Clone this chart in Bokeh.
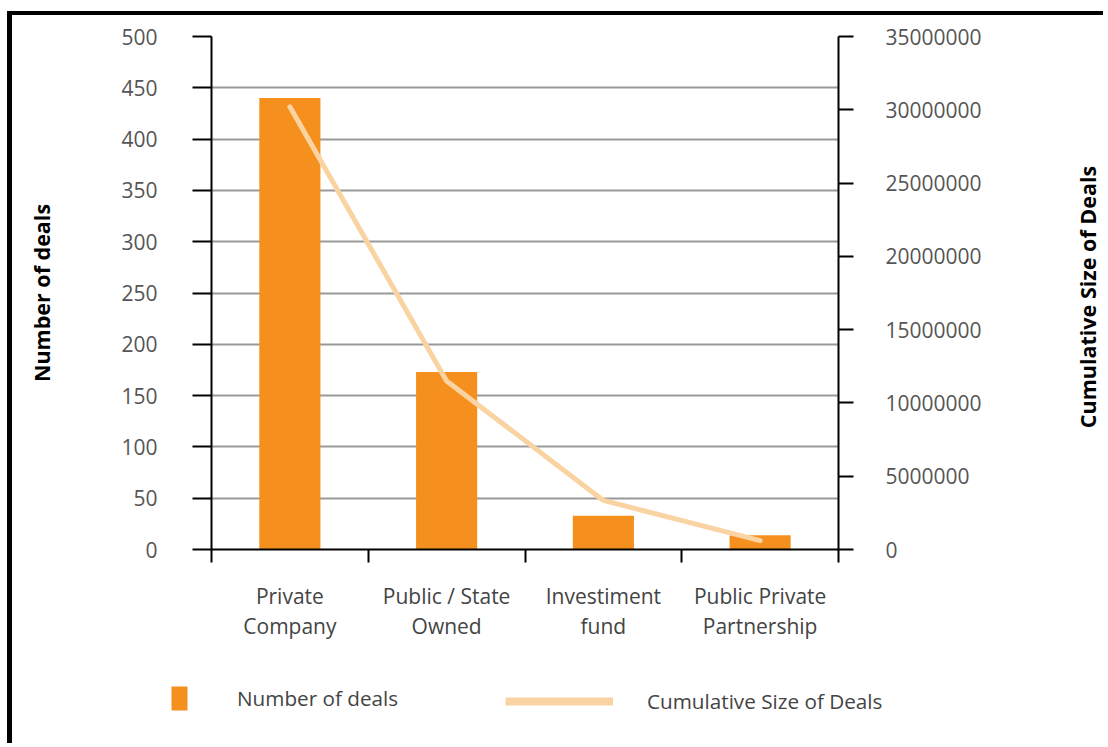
from bokeh.plotting import figure
from bokeh.models import (Range1d, LinearAxis, FixedTicker, NumeralTickFormatter,
                          Legend, LegendItem, Title)
from bokeh.embed import file_html
from bokeh.resources import INLINE

# ---- data ----
categories = ["Private\nCompany", "Public / State\nOwned", "Investiment\nfund",
              "Public Private\nPartnership"]
number_of_deals = [440, 173, 33, 14]
cumulative_size = [30200000, 11500000, 3350000, 610000]
left_ticks = [0, 50, 100, 150, 200, 250, 300, 350, 400, 450, 500]
right_ticks = [0, 5000000, 10000000, 15000000, 20000000, 25000000, 30000000, 35000000]

FONT = "Open Sans"
BAR_COLOR = "#F5901E"
LINE_COLOR = "#FAD3A2"
TICK_COLOR = "#555555"

n = len(categories)
xc = [i + 0.5 for i in range(n)]
bounds = [i for i in range(n + 1)]

p = figure(width=1096, height=645, output_backend="svg", toolbar_location=None,
           x_range=Range1d(0, n), y_range=Range1d(0, left_ticks[-1]),
           min_border_left=199, min_border_right=270, min_border_top=21,
           min_border_bottom=111)
p.styles = {"margin-left": "7px", "margin-top": "11px",
            "border-left": "5px solid black", "border-top": "4px solid black"}
p.outline_line_color = None
p.background_fill_color = "white"
p.border_fill_color = "white"

p.extra_y_ranges = {"size": Range1d(0, right_ticks[-1])}

# bottom axis
xa = p.xaxis[0]
xa.ticker = FixedTicker(ticks=xc, minor_ticks=bounds)
xa.major_label_overrides = {v: c for v, c in zip(xc, categories)}
xa.major_tick_out = 0
xa.major_tick_in = 0
xa.minor_tick_out = 13
xa.minor_tick_in = 0
xa.minor_tick_line_color = "black"
xa.minor_tick_line_width = 2
xa.axis_line_color = "black"
xa.axis_line_width = 2
xa.major_label_text_font = FONT
xa.major_label_text_font_size = "21px"
xa.major_label_text_color = "#444444"
xa.major_label_text_line_height = 1.1
xa.major_label_standoff = 19
xa.major_label_orientation = "horizontal"

# left axis
ya = p.yaxis[0]
ya.ticker = FixedTicker(ticks=left_ticks)
ya.major_tick_out = 19
ya.major_tick_in = 0
ya.minor_tick_line_color = None
ya.major_tick_line_width = 2
ya.major_tick_line_color = "black"
ya.axis_line_width = 2
ya.axis_line_color = "black"
ya.major_label_text_font = FONT
ya.major_label_text_font_size = "21px"
ya.major_label_text_color = TICK_COLOR
ya.major_label_standoff = 35
ya.axis_label = "Number of deals"
ya.axis_label_text_font = FONT
ya.axis_label_text_font_style = "bold"
ya.axis_label_text_font_size = "21.5px"
ya.axis_label_text_color = "black"
ya.axis_label_standoff = 62

# right axis (ticks and labels)
ra = LinearAxis(y_range_name="size", ticker=FixedTicker(ticks=right_ticks),
                formatter=NumeralTickFormatter(format="0"))
ra.major_tick_out = 15
ra.major_tick_in = 0
ra.minor_tick_line_color = None
ra.major_tick_line_width = 2
ra.major_tick_line_color = "black"
ra.axis_line_width = 2
ra.axis_line_color = "black"
ra.major_label_text_font = FONT
ra.major_label_text_font_size = "21px"
ra.major_label_text_color = TICK_COLOR
ra.major_label_standoff = 32
p.add_layout(ra, "right")

# grid
p.xgrid.grid_line_color = None
p.ygrid.ticker = FixedTicker(ticks=left_ticks)
p.ygrid.grid_line_color = "#999999"
p.ygrid.grid_line_width = 2

# marks
p.vbar(x=xc, top=number_of_deals, width=0.39, fill_color=BAR_COLOR, line_color=None)
p.line(x=xc, y=cumulative_size, y_range_name="size", line_color=LINE_COLOR,
       line_width=5, line_cap="round", line_join="round")

# ---- right-hand title (reads bottom-to-top), in a narrow overlay figure ----
tf = figure(width=40, height=513, output_backend="svg", toolbar_location=None,
            x_range=Range1d(0, 1), y_range=Range1d(0, 1),
            x_axis_location=None, y_axis_location=None,
            min_border_left=0, min_border_right=0, min_border_top=0,
            min_border_bottom=0)
tf.styles = {"position": "absolute", "left": "1065px", "top": "40px"}
tf.grid.visible = False
tf.outline_line_color = None
tf.background_fill_alpha = 0
tf.border_fill_alpha = 0
tf.add_layout(Title(text="Cumulative Size of Deals", align="center",
                    text_font=FONT, text_font_style="bold",
                    text_font_size="21.5px", text_color="black"), "left")

# ---- legend strip (keys drawn from the same series, kept out of view) ----
lf = figure(width=1096, height=87, output_backend="svg", toolbar_location=None,
            x_range=Range1d(-20, -19), y_range=Range1d(-20, -19),
            x_axis_location=None, y_axis_location=None,
            min_border_left=0, min_border_right=0, min_border_top=0,
            min_border_bottom=0)
lf.styles = {"margin-left": "7px", "border-left": "5px solid black"}
lf.grid.visible = False
lf.outline_line_color = None
bar_key = lf.vbar(x=xc, top=number_of_deals, width=0.39, fill_color=BAR_COLOR,
                  line_color=None)
line_key = lf.line(x=xc, y=cumulative_size, line_color=LINE_COLOR, line_width=8)

common = dict(padding=0, margin=0, border_line_color=None, background_fill_alpha=0,
              label_text_font=FONT, label_text_font_size="20.7px",
              label_text_color="#444444", glyph_height=30)
leg1 = Legend(items=[LegendItem(label="Number of deals", renderers=[bar_key])],
              location=(157, 30), glyph_width=20, label_standoff=48, **common)
leg2 = Legend(items=[LegendItem(label="Cumulative Size of Deals", renderers=[line_key])],
              location=(493, 27), glyph_width=108, label_standoff=34, **common)
lf.add_layout(leg1)
lf.add_layout(leg2)

open("out.html", "w").write(file_html([p, lf, tf], INLINE))
